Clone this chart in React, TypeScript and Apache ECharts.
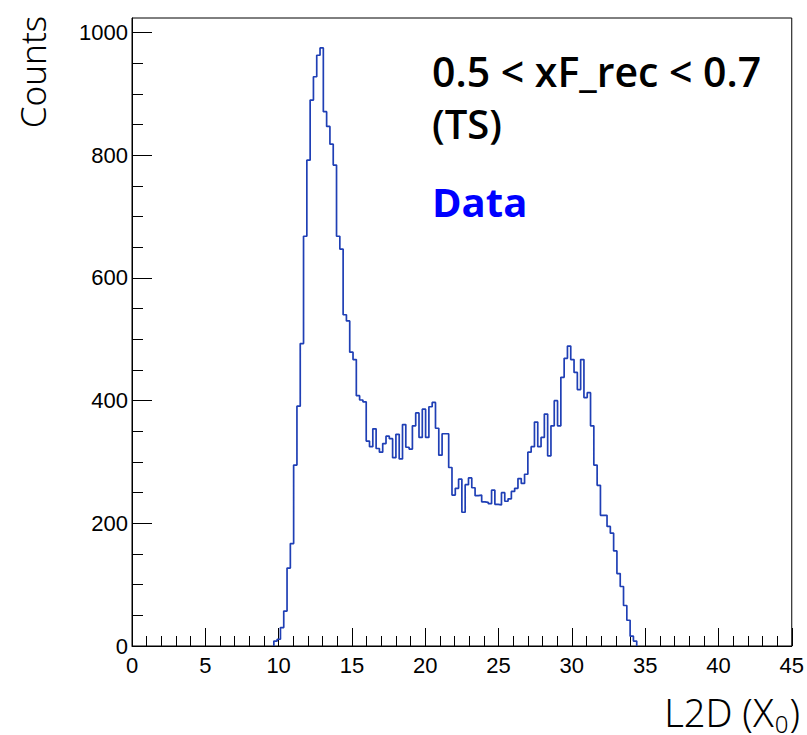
import React, { useEffect, useRef } from 'react';
import * as echarts from 'echarts';

// Histogram: 200 bins over 0–45 (width 0.225); non-empty bins start at 9.675
const binWidth = 0.225;
const firstBinLow = 9.675;
const counts: number[] = [
  // rising edge
  8, 11, 30, 57, 127, 167, 295, 391, 493, 668, 792, 890, 928, 963, 975,
  // falling edge of first peak
  871, 847, 818, 784, 668, 647, 540, 530, 479, 467, 408, 401, 398,
  // plateau and valley
  334, 325, 354, 322, 316, 330, 342, 338, 307, 345, 305, 361, 324, 321, 359, 380, 340, 386, 340, 390,
  397, 355, 311, 346, 346, 291, 246, 257, 272, 218, 263, 274, 258, 245, 246, 235, 234, 232, 254, 231,
  // second peak and tail
  230, 250, 236, 240, 252, 257, 273, 265, 280, 316, 325, 365, 325, 340, 378, 310, 359, 400, 359, 438,
  469, 489, 467, 446, 418, 467, 405, 413, 359, 295, 262, 213, 213, 195, 184, 155, 118, 97, 66, 42, 16, 8,
];

const xMin = 0;
const xMax = 45;
const xInterval = 5;
const yMajorTicks = [0, 200, 400, 600, 800, 1000];
const yMinorTicks = [50, 100, 150, 250, 300, 350, 450, 500, 550, 650, 700, 750, 850, 900, 950];

const titleLine1 = '0.5 < xF_rec < 0.7';
const titleLine2 = '(TS)';
const legendText = 'Data';
const yTitle = 'Counts';
const xTitleMain = 'L2D (X';
const xTitleSub = '0';
const xTitleEnd = ')';

function measure(text: string, font: string): number {
  const ctx = document.createElement('canvas').getContext('2d');
  if (!ctx) return text.length * 20;
  ctx.font = font;
  return ctx.measureText(text).width;
}

export default function App() {
  const ref = useRef<HTMLDivElement>(null);

  useEffect(() => {
    if (!ref.current) return;
    const chart = echarts.init(ref.current, undefined, { renderer: 'svg' });

    const points: [number, number][] = [[firstBinLow, 0]];
    counts.forEach((c, i) => {
      const lo = firstBinLow + i * binWidth;
      points.push([lo, c], [lo + binWidth, c]);
    });
    points.push([firstBinLow + counts.length * binWidth, 0]);

    const yMax = Math.max(...counts) * 1.05;
    const axisFont = { color: '#000', fontFamily: '"Liberation Sans", Arial, sans-serif', fontSize: 22 };
    const black = { color: '#000', width: 1 };
    const sans = '"Noto Sans", sans-serif';
    const titleFamily = '"Open Sans", "Noto Sans", sans-serif';

    // x-axis title laid out as main text + lowered subscript + closing paren, right edge at 800
    const mainSize = 38;
    const subSize = 24;
    const wEnd = measure(xTitleEnd, `300 ${mainSize}px "Noto Sans"`);
    const wSub = measure(xTitleSub, `300 ${subSize}px "Noto Sans"`);
    const endX = 800 - wEnd;
    const subX = endX - wSub - 1;
    const mainRight = subX - 1;

    chart.setOption({
      animation: false,
      backgroundColor: '#fff',
      grid: {
        left: 132, top: 18, right: 14, bottom: 89,
        show: true, borderColor: '#000', borderWidth: 1, backgroundColor: 'transparent',
      },
      xAxis: {
        type: 'value', min: xMin, max: xMax, interval: xInterval,
        axisLine: { show: true, lineStyle: black },
        axisTick: { show: true, inside: true, length: 18, lineStyle: black },
        minorTick: { show: true, splitNumber: 5, length: 10, lineStyle: black },
        splitLine: { show: false },
        minorSplitLine: { show: false },
        axisLabel: { ...axisFont, margin: 8, showMinLabel: true, showMaxLabel: true },
      },
      yAxis: [
        {
          type: 'value', min: 0, max: yMax, position: 'left',
          axisLine: { show: true, lineStyle: black },
          axisTick: { show: true, inside: true, length: 20, lineStyle: black, customValues: yMajorTicks },
          splitLine: { show: false },
          axisLabel: { ...axisFont, margin: 4, customValues: yMajorTicks, formatter: (v: number) => String(v) },
        },
        {
          type: 'value', min: 0, max: yMax, position: 'left', offset: 0,
          axisLine: { show: false },
          axisTick: { show: true, inside: true, length: 11, lineStyle: black, customValues: yMinorTicks },
          splitLine: { show: false },
          axisLabel: { show: false },
        },
      ],
      series: [
        {
          type: 'line', xAxisIndex: 0, yAxisIndex: 0, data: points,
          symbol: 'none', showSymbol: false,
          lineStyle: { color: '#1f3fb5', width: 1.7 },
          silent: true,
        },
      ],
      graphic: [
        {
          type: 'text', x: 432, y: 71,
          style: { text: titleLine1, fontFamily: titleFamily, fontSize: 41, fontWeight: 600, fill: '#000', align: 'left', verticalAlign: 'middle' },
        },
        {
          type: 'text', x: 432, y: 123,
          style: { text: titleLine2, fontFamily: titleFamily, fontSize: 40, fontWeight: 600, fill: '#000', align: 'left', verticalAlign: 'middle' },
        },
        {
          type: 'text', x: 432, y: 201,
          style: { text: legendText, fontFamily: titleFamily, fontSize: 40, fontWeight: 'bold', fill: '#0000ff', align: 'left', verticalAlign: 'middle' },
        },
        {
          type: 'text', x: 32, y: 72, rotation: Math.PI / 2,
          style: { text: yTitle, fontFamily: sans, fontSize: 35, fontWeight: 300, fill: '#000', align: 'center', verticalAlign: 'middle' },
        },
        {
          type: 'text', x: mainRight, y: 712,
          style: { text: xTitleMain, fontFamily: sans, fontSize: mainSize, fontWeight: 300, fill: '#000', align: 'right', verticalAlign: 'middle' },
        },
        {
          type: 'text', x: subX, y: 723,
          style: { text: xTitleSub, fontFamily: sans, fontSize: subSize, fontWeight: 300, fill: '#000', align: 'left', verticalAlign: 'middle' },
        },
        {
          type: 'text', x: endX, y: 712,
          style: { text: xTitleEnd, fontFamily: sans, fontSize: mainSize, fontWeight: 300, fill: '#000', align: 'left', verticalAlign: 'middle' },
        },
      ],
    });

    return () => chart.dispose();
  }, []);

  return <div ref={ref} style={{ position: 'fixed', left: 0, top: 0, width: 807, height: 735 }} />;
}
